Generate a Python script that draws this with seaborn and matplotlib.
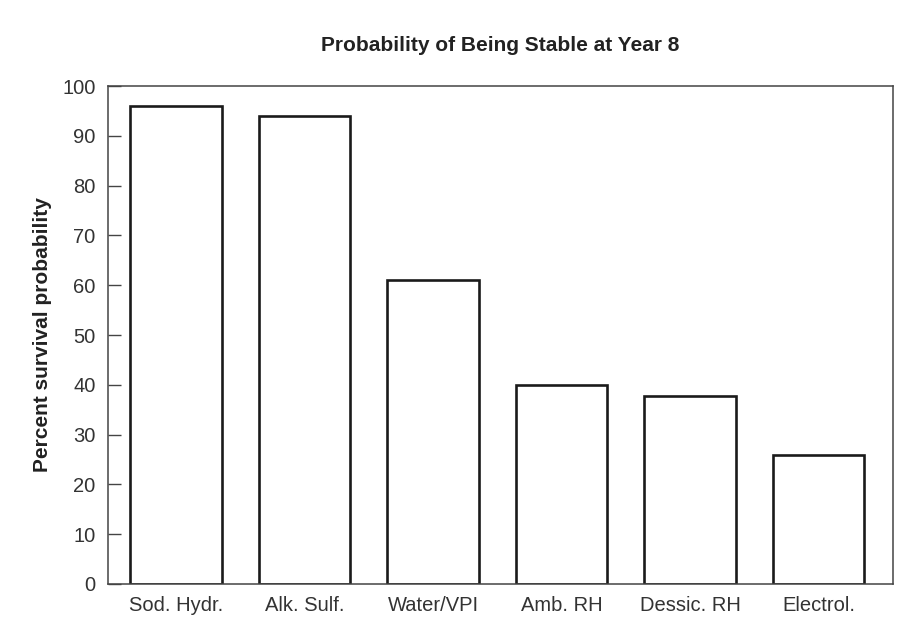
import matplotlib
matplotlib.use('Agg')
import matplotlib.pyplot as plt
import pandas as pd
import seaborn as sns

# data
categories = ['Sod. Hydr.', 'Alk. Sulf.', 'Water/VPI', 'Amb. RH', 'Dessic. RH', 'Electrol.']
survival = [96, 94, 61, 40, 37.7, 26]
y_ticks = list(range(0, 101, 10))

df = pd.DataFrame({'method': categories, 'pct': survival})

sns.set_style('white')
plt.rcParams['font.family'] = ['Liberation Sans', 'DejaVu Sans']

fig = plt.figure(figsize=(9.05, 6.22), dpi=100)
ax = fig.add_axes([0.1193, 0.0611, 0.8674, 0.8006])

sns.barplot(data=df, x='method', y='pct', color='white', edgecolor='#1a1a1a',
            linewidth=1.9, width=0.71, saturation=1, ax=ax)

ax.set_ylim(0, 100)
ax.set_xlim(-0.53, 5.58)
ax.set_yticks(y_ticks)
ax.set_xlabel('')
ax.set_ylabel('Percent survival probability', fontsize=15, fontweight='bold',
              color='#222222', labelpad=7)
ax.set_title('Probability of Being Stable at Year 8', fontsize=15, fontweight='bold',
             color='#222222', pad=25)

ax.tick_params(axis='y', direction='in', length=9.5, width=1.0, color='#444444',
               labelsize=14.5, labelcolor='#333333', pad=9, left=True)
ax.tick_params(axis='x', length=0, labelsize=14.5, labelcolor='#333333', pad=9)

for s in ax.spines.values():
    s.set_visible(True)
    s.set_color('#444444')
    s.set_linewidth(1.1)

fig.savefig('out.png', dpi=100, facecolor='white')
